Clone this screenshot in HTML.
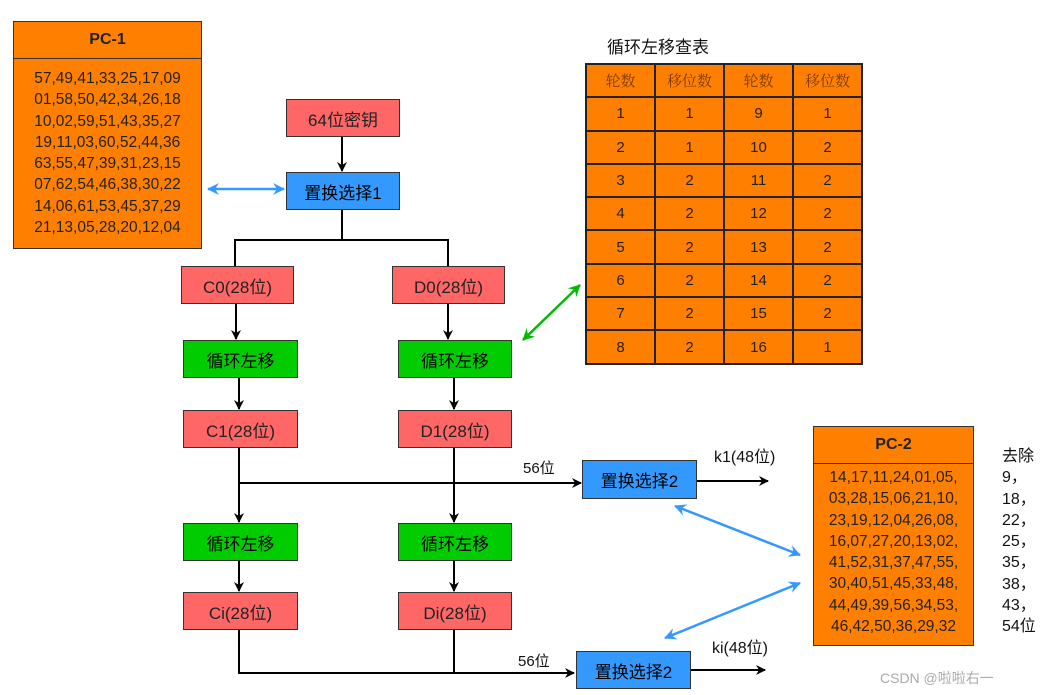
<!DOCTYPE html>
<html><head><meta charset="utf-8"><style>
body{margin:0;width:1053px;height:695px;background:#fff;position:relative;overflow:hidden;font-family:"Liberation Sans","Noto Sans CJK SC",sans-serif;}
.b{position:absolute;box-sizing:border-box;border:1.5px solid #333;display:flex;align-items:center;justify-content:center;font-size:17px;color:#222;}
.r{background:#ff6666;}.g{background:#00cc00;color:#000}.bl{background:#3399ff;color:#000}
.t{position:absolute;font-size:16px;color:#111;}
table{position:absolute;left:585px;top:63px;border-collapse:collapse;background:#ff8000;}
td{border:2px solid #222;width:67px;height:31.3px;text-align:center;font-size:15px;color:#222;padding:0}
td.h{color:#7a3a00;font-family:"Noto Serif CJK SC",serif;font-size:15px}
svg{position:absolute;left:0;top:0}
</style></head><body>
<svg width="1053" height="695">
<defs>
<marker id="a" markerWidth="10" markerHeight="10" refX="9" refY="5" orient="auto" markerUnits="userSpaceOnUse"><path d="M0,0 L10,5 L0,10 L3,5z" fill="#000"/></marker>
<marker id="ab" markerWidth="12" markerHeight="12" refX="11" refY="6" orient="auto-start-reverse" markerUnits="userSpaceOnUse"><path d="M0,0 L12,6 L0,12 L4,6z" fill="#3399ff"/></marker>
<marker id="ag" markerWidth="12" markerHeight="12" refX="11" refY="6" orient="auto-start-reverse" markerUnits="userSpaceOnUse"><path d="M0,0 L12,6 L0,12 L4,6z" fill="#00bb00"/></marker>
</defs>
<g stroke="#000" stroke-width="2" fill="none">
<line x1="342" y1="136" x2="342" y2="171" marker-end="url(#a)"/>
<polyline points="342,209 342,240 235,240 235,266"/>
<polyline points="342,240 448,240 448,266"/>
<line x1="236" y1="303" x2="236" y2="339" marker-end="url(#a)"/>
<line x1="448" y1="303" x2="448" y2="339" marker-end="url(#a)"/>
<line x1="239" y1="378" x2="239" y2="409" marker-end="url(#a)"/>
<line x1="454" y1="378" x2="454" y2="409" marker-end="url(#a)"/>
<line x1="239" y1="448" x2="239" y2="522" marker-end="url(#a)"/>
<line x1="454" y1="448" x2="454" y2="522" marker-end="url(#a)"/>
<line x1="239" y1="483" x2="581" y2="483" marker-end="url(#a)"/>
<line x1="239" y1="561" x2="239" y2="591" marker-end="url(#a)"/>
<line x1="454" y1="561" x2="454" y2="591" marker-end="url(#a)"/>
<polyline points="239,630 239,673 574,673" marker-end="url(#a)"/>
<line x1="454" y1="630" x2="454" y2="673"/>
<line x1="697" y1="481" x2="768" y2="481" marker-end="url(#a)"/>
<line x1="690" y1="670" x2="765" y2="670" marker-end="url(#a)"/>
</g>
<g stroke="#3399ff" stroke-width="2.5">
<line x1="208" y1="189" x2="284" y2="189" marker-start="url(#ab)" marker-end="url(#ab)"/>
<line x1="675" y1="506" x2="800" y2="555" marker-start="url(#ab)" marker-end="url(#ab)"/>
<line x1="665" y1="638" x2="800" y2="583" marker-start="url(#ab)" marker-end="url(#ab)"/>
</g>
<line x1="523" y1="340" x2="580" y2="285" stroke="#00bb00" stroke-width="2.5" marker-start="url(#ag)" marker-end="url(#ag)"/>
</svg>
<div class="b" style="left:13px;top:21px;width:189px;height:228px;background:#ff8000;display:block;padding:0">
<div style="height:36px;border-bottom:1.5px solid #333;text-align:center;line-height:36px;font-weight:bold;font-size:16px">PC-1</div>
<div style="text-align:center;font-size:15.5px;line-height:21.3px;padding-top:9px">57,49,41,33,25,17,09<br>01,58,50,42,34,26,18<br>10,02,59,51,43,35,27<br>19,11,03,60,52,44,36<br>63,55,47,39,31,23,15<br>07,62,54,46,38,30,22<br>14,06,61,53,45,37,29<br>21,13,05,28,20,12,04</div></div>
<div class="b r" style="left:286px;top:99px;width:114px;height:38px">64位密钥</div>
<div class="b bl" style="left:286px;top:172px;width:114px;height:38px">置换选择1</div>
<div class="b r" style="left:181px;top:266px;width:113px;height:38px">C0(28位)</div>
<div class="b r" style="left:392px;top:266px;width:113px;height:38px">D0(28位)</div>
<div class="b g" style="left:183px;top:340px;width:115px;height:38px">循环左移</div>
<div class="b g" style="left:398px;top:340px;width:114px;height:38px">循环左移</div>
<div class="b r" style="left:183px;top:410px;width:115px;height:38px">C1(28位)</div>
<div class="b r" style="left:398px;top:410px;width:114px;height:38px">D1(28位)</div>
<div class="b g" style="left:183px;top:523px;width:115px;height:38px">循环左移</div>
<div class="b g" style="left:398px;top:523px;width:114px;height:38px">循环左移</div>
<div class="b r" style="left:183px;top:592px;width:115px;height:38px">Ci(28位)</div>
<div class="b r" style="left:398px;top:592px;width:114px;height:38px">Di(28位)</div>
<div class="b bl" style="left:582px;top:460px;width:115px;height:39px">置换选择2</div>
<div class="b bl" style="left:576px;top:651px;width:115px;height:38px">置换选择2</div>
<div class="t" style="left:523px;top:457px;font-size:15px">56位</div>
<div class="t" style="left:518px;top:650px;font-size:15px">56位</div>
<div class="t" style="left:714px;top:443px">k1(48位)</div>
<div class="t" style="left:712px;top:634px">ki(48位)</div>
<div class="t" style="left:607px;top:33px;font-size:17px">循环左移查表</div>
<table>
<tr><td class="h">轮数</td><td class="h">移位数</td><td class="h">轮数</td><td class="h">移位数</td></tr>
<tr><td>1</td><td>1</td><td>9</td><td>1</td></tr>
<tr><td>2</td><td>1</td><td>10</td><td>2</td></tr>
<tr><td>3</td><td>2</td><td>11</td><td>2</td></tr>
<tr><td>4</td><td>2</td><td>12</td><td>2</td></tr>
<tr><td>5</td><td>2</td><td>13</td><td>2</td></tr>
<tr><td>6</td><td>2</td><td>14</td><td>2</td></tr>
<tr><td>7</td><td>2</td><td>15</td><td>2</td></tr>
<tr><td>8</td><td>2</td><td>16</td><td>1</td></tr>
</table>
<div class="b" style="left:813px;top:426px;width:161px;height:220px;background:#ff8000;display:block;padding:0">
<div style="height:36px;border-bottom:1.5px solid #333;text-align:center;line-height:36px;font-weight:bold;font-size:16px">PC-2</div>
<div style="text-align:center;font-size:15.5px;line-height:21.3px;padding-top:3px">14,17,11,24,01,05,<br>03,28,15,06,21,10,<br>23,19,12,04,26,08,<br>16,07,27,20,13,02,<br>41,52,31,37,47,55,<br>30,40,51,45,33,48,<br>44,49,39,56,34,53,<br>46,42,50,36,29,32</div></div>
<div class="t" style="left:1002px;top:446px;line-height:21.3px;font-size:16px">去除<br>9，<br>18，<br>22，<br>25，<br>35，<br>38，<br>43，<br>54位</div>
<div class="t" style="left:880px;top:668px;color:#aaa;font-size:14px">CSDN @啦啦右一</div>
</body></html>
